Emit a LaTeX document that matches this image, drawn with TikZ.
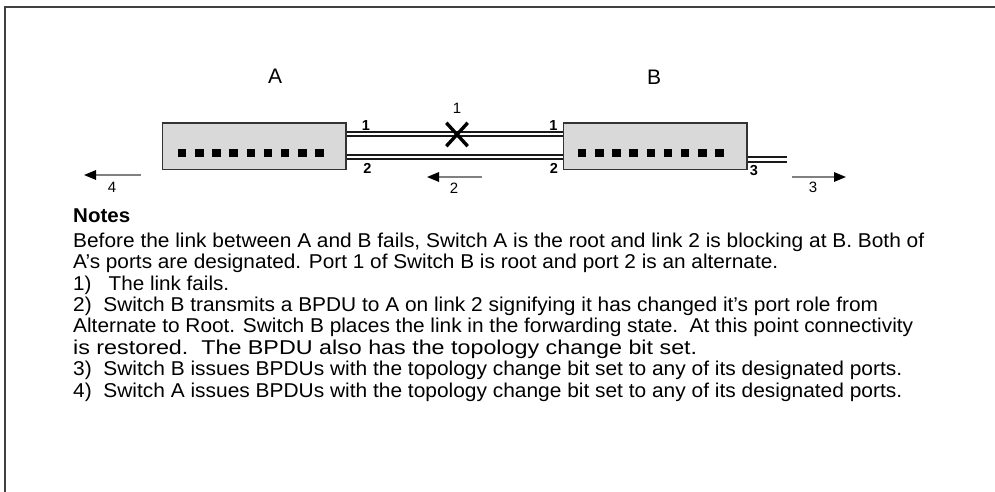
\documentclass[tikz,border=0pt]{standalone}
\usepackage{fontspec}
\setmainfont{Liberation Sans}
\usetikzlibrary{arrows.meta,shapes.misc,calc}
\newcommand\fitln[2]{\resizebox{#1pt}{\height}{#2}}
\begin{document}
\begin{tikzpicture}[x=1pt,y=-1pt,
  swbox/.style={draw=black!80, fill=black!15, line width=1.6pt, minimum width=183.5pt, minimum height=46pt, inner sep=0pt},
  sq/.style={fill=black, minimum size=8.5pt, inner sep=0pt},
  link/.style={draw=black!90, line width=2pt, double=white, double distance=2.4pt},
  portlbl/.style={font=\fontsize{14.5}{14.5}\selectfont\bfseries, inner sep=0pt, anchor=base},
  arrlbl/.style={font=\fontsize{15}{15}\selectfont, inner sep=0pt, anchor=base},
  bpdu/.style={draw=black!50, line width=1.5pt, -{Triangle[length=12pt,width=9.5pt,color=black]}},
  title/.style={font=\fontsize{21}{21}\selectfont, inner sep=0pt, anchor=base},
  txt/.style={font=\fontsize{20}{20}\selectfont, inner sep=0pt, anchor=base west, text=black}
]
\useasboundingbox (0,0) rectangle (995,492);
% frame
\draw[black!75, line width=2.2pt] (5,492) -- (5,7) -- (995,7);

% titles
\node[title] (tA) at (275,83.5) {A};
\node[title] (tB) at (654,84.5) {B};

% switches
\node[swbox] (A) at (254.4,146.3) {};
\node[swbox] (B) at (655.2,146.3) {};
\foreach \i in {0,...,8}{
  \node[sq] (sa\i) at (182.2+17.16*\i,153) {};
  \node[sq] (sb\i) at (582.2+17.16*\i,153) {};
}

% links
\coordinate (l1a) at ($(A.east)+(0,-12.3)$);
\coordinate (l1b) at ($(B.west)+(0,-12.3)$);
\coordinate (l2a) at ($(A.east)+(0,10.7)$);
\coordinate (l2b) at ($(B.west)+(0,10.7)$);
\coordinate (l3a) at ($(B.east)+(0,13.2)$);
\coordinate (l3b) at (787,159.5);
\draw[link] (l1a) -- (l1b);
\draw[link] (l2a) -- (l2b);
\draw[link] (l3a) -- (l3b);

% failure mark
\node[cross out, draw=black, line width=3.4pt, minimum width=18pt, minimum height=20pt, inner sep=0pt] (X) at (457,134.5) {};
\node[arrlbl] (X1) at (457,113.5) {1};

% port labels
\node[portlbl] (pa1) at (366,130) {1};
\node[portlbl] (pa2) at (367.5,173.5) {2};
\node[portlbl] (pb1) at (553.5,130) {1};
\node[portlbl] (pb2) at (554,173) {2};
\node[portlbl] (pb3) at (754,175.5) {3};

% BPDU arrows
\coordinate (a4s) at (141,175);
\coordinate (a4e) at (84,175);
\draw[bpdu] (a4s) -- (a4e);
\node[arrlbl] (n4) at (112,192.5) {4};
\coordinate (a2s) at (482,177);
\coordinate (a2e) at (427,177);
\draw[bpdu] (a2s) -- (a2e);
\node[arrlbl] (n2) at (454,193.5) {2};
\coordinate (a3s) at (792,177);
\coordinate (a3e) at (846,177);
\draw[bpdu] (a3s) -- (a3e);
\node[arrlbl] (n3) at (813,192.5) {3};

% notes
\node[txt, font=\fontsize{20}{20}\selectfont\bfseries] (notes) at (73,222.7) {\fitln{57}{Notes}};
\node[txt] (t1) at (73,247.3) {\fitln{851}{Before the link between A and B fails, Switch A is the root and link 2 is blocking at B. Both of}};
\node[txt] (t2) at (73,268.5) {\fitln{705}{A's ports are designated. Port 1 of Switch B is root and port 2 is an alternate.}};
\node[txt] (t3) at (73,290) {\fitln{156}{1)\ \ \ The link fails.}};
\node[txt] (t4) at (73,311.3) {\fitln{805}{2)\ \ Switch B transmits a BPDU to A on link 2 signifying it has changed it's port role from}};
\node[txt] (t5) at (73,332.7) {\fitln{840}{Alternate to Root. Switch B places the link in the forwarding state.\ \ At this point connectivity}};
\node[txt] (t6) at (73,354) {\fitln{624}{is restored.\ \ The BPDU also has the topology change bit set.}};
\node[txt] (t7) at (73,375.6) {\fitln{829}{3)\ \ Switch B issues BPDUs with the topology change bit set to any of its designated ports.}};
\node[txt] (t8) at (73,397) {\fitln{829}{4)\ \ Switch A issues BPDUs with the topology change bit set to any of its designated ports.}};
\end{tikzpicture}
\end{document}
